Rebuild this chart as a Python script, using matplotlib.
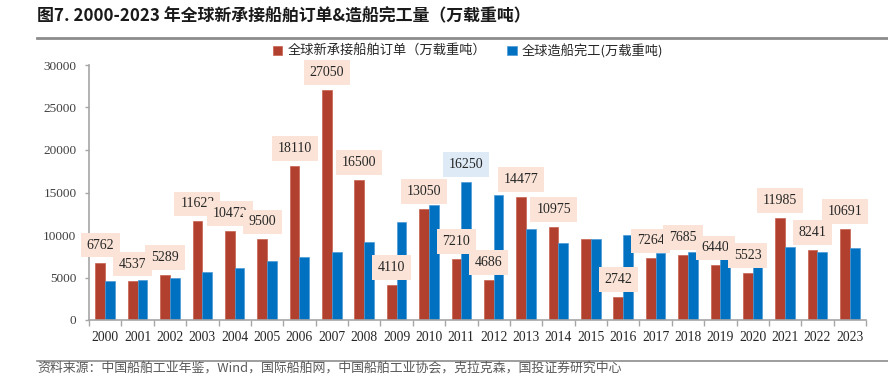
import matplotlib.pyplot as plt
import numpy as np
from matplotlib.ticker import FixedLocator

plt.rcParams['font.family'] = ['Noto Sans CJK SC', 'DejaVu Sans']

years = [str(y) for y in range(2000, 2024)]
orders = [6762, 4537, 5289, 11623, 10472, 9500, 18110, 27050, 16500, 4110, 13050, 7210,
          4686, 14477, 10975, 9560, 2742, 7264, 7685, 6440, 5523, 11985, 8241, 10691]
completions = [4600, 4650, 5000, 5600, 6150, 7000, 7400, 8000, 9140, 11570, 13560, 16250,
               14700, 10700, 9020, 9560, 10000, 7850, 8000, 9880, 8900, 8590, 8000, 8430]
# years whose order value has no label in the chart
no_label = ['2015']
blue_label_years = ['2011']

red = '#B1402F'
blue = '#0070C0'
peach = '#FBE4D7'
light_blue = '#DEEBF7'
grey = '#A6A6A6'

fig = plt.figure(figsize=(8.88, 3.89), dpi=100)
ax = fig.add_axes([89 / 888, 1 - 320 / 389, 777 / 888, 255 / 389])

x = np.arange(len(years))
w = 0.3
ax.bar(x - w / 2, orders, w, color=red, edgecolor='#C8604F', linewidth=0.5,
       label='全球新承接船舶订单（万载重吨）', zorder=2)
ax.bar(x + w / 2, completions, w, color=blue, edgecolor='#4A9AD6', linewidth=0.5,
       label='全球造船完工(万载重吨)', zorder=2)

num_font = dict(family='Liberation Serif', size=10, color='#262626')
for i, y in enumerate(years):
    if y not in no_label:
        ax.annotate(str(orders[i]), (x[i] - w / 2, orders[i]), xytext=(0, 12.5),
                    textcoords='offset points', ha='center', va='center', zorder=5,
                    bbox=dict(boxstyle='square,pad=0.42', fc=peach, ec='none'), **num_font)
    if y in blue_label_years:
        ax.annotate(str(completions[i]), (x[i] + w / 2, completions[i]), xytext=(0, 12.5),
                    textcoords='offset points', ha='center', va='center', zorder=5,
                    bbox=dict(boxstyle='square,pad=0.42', fc=light_blue, ec='none'), **num_font)

ax.set_xlim(-0.5, len(years) - 0.5)
ax.set_ylim(0, 30000)
ax.set_yticks(range(0, 30001, 5000))
ax.set_yticklabels([str(v) for v in range(0, 30001, 5000)], family='Liberation Serif',
                   size=9.5, color='#404040')
ax.set_xticks(x)
ax.set_xticklabels(years, family='Liberation Serif', size=9.8, color='#262626')
ax.xaxis.set_minor_locator(FixedLocator(np.arange(-0.5, len(years), 1)))
ax.tick_params(axis='x', which='major', length=0, pad=8)
ax.tick_params(axis='x', which='minor', length=4, color=grey, width=1)
ax.tick_params(axis='y', length=3, color=grey, width=1, pad=6)

for s in ['top', 'right']:
    ax.spines[s].set_visible(False)
for s in ['left', 'bottom']:
    ax.spines[s].set_color(grey)
    ax.spines[s].set_linewidth(1.2)

leg = ax.legend(loc='upper left', bbox_to_anchor=(273 / 888, 1 - 44 / 389),
                bbox_transform=fig.transFigure, ncol=2, frameon=False,
                handlelength=0.7, handleheight=0.7, handletextpad=0.4,
                columnspacing=1.6, borderaxespad=0, borderpad=0,
                prop=dict(family='Noto Sans CJK SC', size=9.5))
for t in leg.get_texts():
    t.set_color('#262626')

fig.text(37 / 888, 1 - 16 / 389, '图7. 2000-2023 年全球新承接船舶订单&造船完工量（万载重吨）',
         ha='left', va='center', fontsize=12.2, fontweight='bold', color='#1a1a1a')
fig.add_artist(plt.Line2D([37 / 888, 1], [1 - 38 / 389] * 2, color='#8C8C8C', lw=2))
fig.add_artist(plt.Line2D([37 / 888, 1], [1 - 361 / 389] * 2, color='#8C8C8C', lw=1.2))
fig.text(37 / 888, 1 - 368 / 389,
         '资料来源：中国船舶工业年鉴，Wind，国际船舶网，中国船舶工业协会，克拉克森，国投证券研究中心',
         ha='left', va='center', fontsize=9.3, color='#595959', style='italic')

fig.savefig('out.png', dpi=100)
